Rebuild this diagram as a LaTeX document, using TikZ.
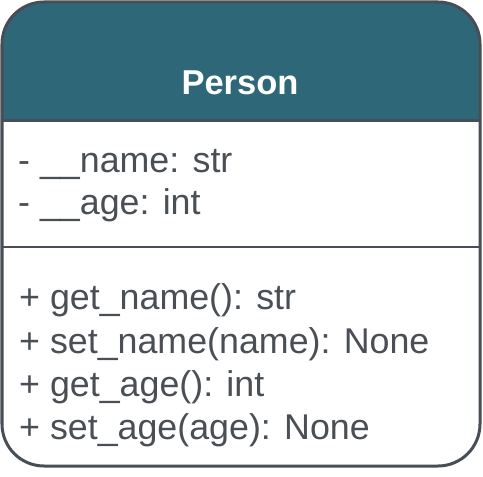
\documentclass[tikz,border=0pt]{standalone}
\usepackage{fontspec}
\setmainfont{Liberation Sans}
\definecolor{hdr}{HTML}{2E6878}
\definecolor{edge}{HTML}{474E55}
\definecolor{txt}{HTML}{4A4F55}
\begin{document}
\begin{tikzpicture}[x=1bp,y=-1bp,
  member/.style={anchor=base west,inner sep=0pt,text=txt,font=\fontsize{35.8bp}{42bp}\selectfont},
  title/.style={anchor=base,inner sep=0pt,text=white,font=\fontsize{34.5bp}{42bp}\selectfont\bfseries}]
\useasboundingbox (0,0) rectangle (483,477);
% header fill
\fill[hdr,rounded corners=42bp] (2,121) -- (2,2) -- (480,2) -- (480,121);
\fill[hdr] (2,60) rectangle (480,121);
% outline
\draw[edge,line width=3bp,rounded corners=42bp] (2,2) rectangle (480,466);
\draw[edge,line width=3bp] (2,121) -- (480,121);
\draw[edge,line width=2.5bp] (2,247) -- (480,247);
% texts
\node[title] (t) at (240,95) {Person};
\node[member] (a1) at (18,173) {- \_\_name: str};
\node[member] (a2) at (18,214) {- \_\_age: int};
\node[member] (m1) at (19,309) {+ get\_name(): str};
\node[member] (m2) at (19,353) {+ set\_name(name): None};
\node[member] (m3) at (19,396) {+ get\_age(): int};
\node[member] (m4) at (19,439) {+ set\_age(age): None};
\end{tikzpicture}
\end{document}
